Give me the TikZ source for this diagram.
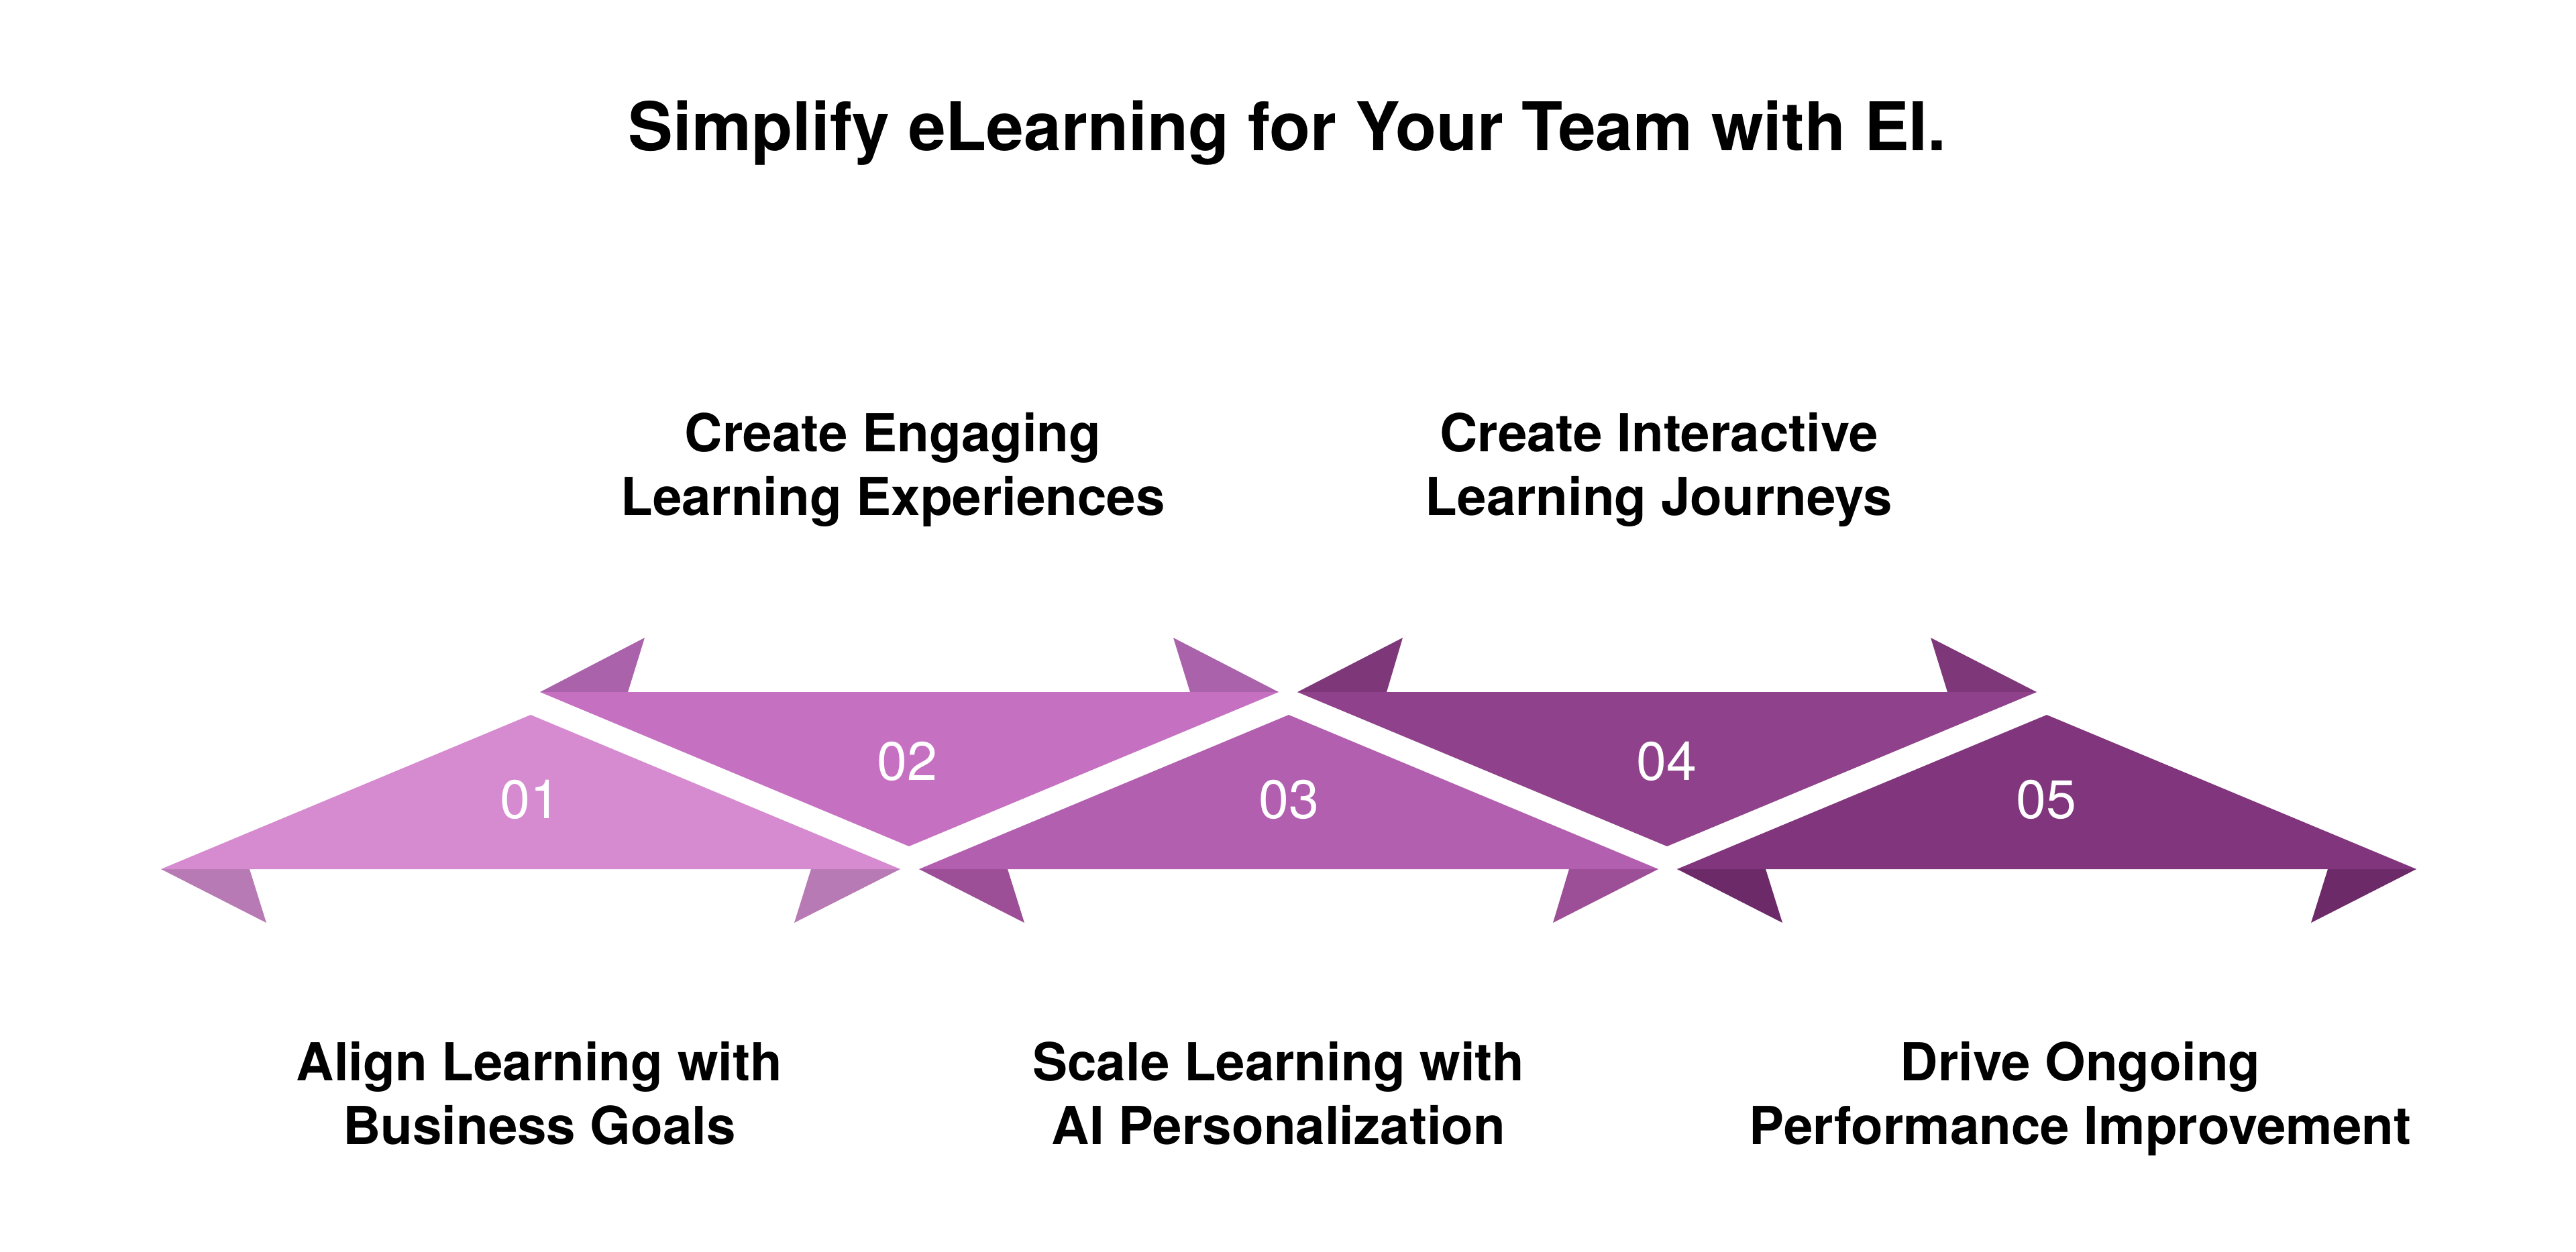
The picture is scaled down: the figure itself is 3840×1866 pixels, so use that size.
\documentclass[tikz,border=0pt]{standalone}
\usepackage{fontspec}
\setmainfont{TeX Gyre Heros}
\usetikzlibrary{positioning}
\definecolor{A}{RGB}{214,139,208}
\definecolor{Af}{RGB}{184,122,181}
\definecolor{B}{RGB}{198,112,194}
\definecolor{Bf}{RGB}{170,98,171}
\definecolor{C}{RGB}{178,95,176}
\definecolor{Cf}{RGB}{156,79,151}
\definecolor{D}{RGB}{143,66,139}
\definecolor{Df}{RGB}{126,55,120}
\definecolor{E}{RGB}{128,53,124}
\definecolor{Ef}{RGB}{109,42,105}
\tikzstyle{headline} = [font=\fontsize{28.45}{34}\selectfont\bfseries, anchor=base]
\tikzstyle{stepname} = [font=\fontsize{22.2}{26.74}\selectfont\bfseries, align=center, anchor=base, inner sep=0pt] % base = last line
\tikzstyle{stepnum} = [font=\fontsize{23}{27}\selectfont, text=white]

\begin{document}
\begin{tikzpicture}[
    x=0.01cm, y=-0.01cm, % one unit is one pixel of the reference, y downwards
  ]
    \useasboundingbox[fill=white] (0,0) rectangle (3840,1866);

    \node[headline] (title) at (1919,224) {Simplify eLearning for Your Team with EI.};

    % folded tails
    \fill[Af] (240,1296) -- (372,1296) -- (397,1376) -- cycle;
    \fill[Af] (1342,1296) -- (1209,1296) -- (1184,1376) -- cycle;
    \fill[Bf] (805,1032) -- (936,1032) -- (961,951) -- cycle;
    \fill[Bf] (1906,1032) -- (1774,1032) -- (1749,951) -- cycle;
    \fill[Cf] (1370,1296) -- (1502,1296) -- (1527,1376) -- cycle;
    \fill[Cf] (2472,1296) -- (2339,1296) -- (2315,1376) -- cycle;
    \fill[Df] (1934,1032) -- (2067,1032) -- (2091,951) -- cycle;
    \fill[Df] (3036,1032) -- (2903,1032) -- (2878,951) -- cycle;
    \fill[Ef] (2500,1296) -- (2632,1296) -- (2657,1376) -- cycle;
    \fill[Ef] (3602,1296) -- (3470,1296) -- (3445,1376) -- cycle;

    % triangles
    \fill[A] (240,1296) -- (791,1066) -- (1342,1296) -- cycle;
    \fill[B] (805,1032) -- (1906,1032) -- (1355,1262) -- cycle;
    \fill[C] (1370,1296) -- (1921,1066) -- (2472,1296) -- cycle;
    \fill[D] (1934,1032) -- (3036,1032) -- (2485,1262) -- cycle;
    \fill[E] (2500,1296) -- (3051,1066) -- (3602,1296) -- cycle;

    \node[stepnum] (n01) at (790,1192)  {01};
    \node[stepnum] (n02) at (1352,1135) {02};
    \node[stepnum] (n03) at (1921,1192) {03};
    \node[stepnum] (n04) at (2484,1135) {04};
    \node[stepnum] (n05) at (3050,1192) {05};

    \node[stepname] (s02) at (1331,768)  {Create Engaging\\Learning Experiences};
    \node[stepname] (s04) at (2473,768)  {Create Interactive\\Learning Journeys};
    \node[stepname] (s01) at (804,1706)  {Align Learning with\\Business Goals};
    \node[stepname] (s03) at (1906,1706) {Scale Learning with\\AI Personalization};
    \node[stepname] (s05) at (3101,1706) {Drive Ongoing\\Performance Improvement};
  \end{tikzpicture}
\end{document}
